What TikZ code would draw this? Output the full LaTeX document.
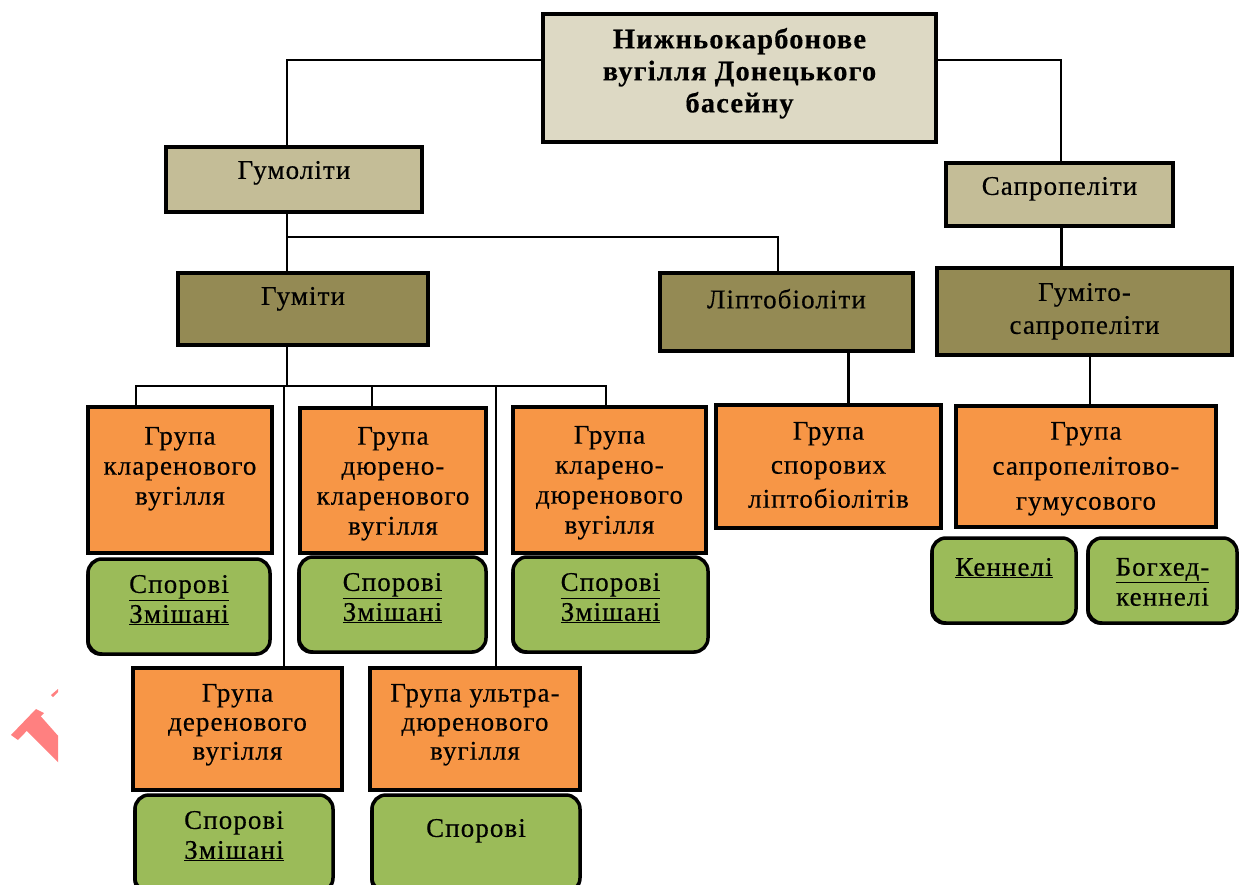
\documentclass[tikz,border=0pt]{standalone}
\usepackage{fontspec}
\setmainfont{Liberation Serif}[LetterSpace=4, FakeBold=0.4]
\usetikzlibrary{shadows}
\definecolor{cTop}{HTML}{DDD9C4}
\definecolor{cTan}{HTML}{C4BD97}
\definecolor{cOlive}{HTML}{948A54}
\definecolor{cOrange}{HTML}{F79646}
\definecolor{cGreen}{HTML}{9BBB59}
\definecolor{cMark}{HTML}{FF8080}
\newcommand\bx[8]{\node[#1,inner sep=0pt] (#2) at ({(#3+#5)/2},{(#4+#6)/2}) {\parbox[c][\dimexpr#6pt-#4pt\relax][t]{\dimexpr#5pt-#3pt\relax}{\centering\vspace*{#7pt}#8\par}};}
\tikzset{
  bbase/.style={draw=black, line width=3.5pt,
    drop shadow={shadow xshift=-1.8pt,shadow yshift=-1.8pt,fill=black,opacity=1},
    font=\fontsize{27}{30}\selectfont},
  topbox/.style={bbase, fill=cTop, font=\fontsize{28.5}{32}\selectfont\bfseries},
  tanbox/.style={bbase, fill=cTan},
  olivebox/.style={bbase, fill=cOlive},
  orangebox/.style={bbase, fill=cOrange},
  greenbox/.style={bbase, fill=cGreen, rounded corners=14pt},
  thin/.style={line width=2pt, draw=black},
  thick/.style={line width=3pt, draw=black},
}
\begin{document}
\begin{tikzpicture}[x=1pt,y=-1pt]
\useasboundingbox[fill=white] (0,0) rectangle (1241,885);
% watermark fragment
\begin{scope}
\clip (0,600) rectangle (58,800);
\fill[cMark] (11,735) -- (36,709) -- (44,713) -- (18,740) -- cycle;
\fill[cMark] (24,728) -- (37,712) -- (60,738) -- (60,764) -- cycle;
\fill[cMark] (51,695) -- (58,689) -- (58,692) -- (53,697) -- cycle;
\end{scope}
% boxes
\bx{topbox}{top}{543}{14}{936}{142}{14}{Нижньокарбонове\\вугілля Донецького\\басейну}
\bx{tanbox}{gumol}{166}{147}{422}{212}{14}{Гумоліти}
\bx{tanbox}{sapro}{946}{163}{1173}{226}{14}{Сапропеліти}
\bx{olivebox}{gumiti}{178}{273}{428}{345}{14}{Гуміти}
\bx{olivebox}{lipto}{660}{273}{913}{351}{16}{Ліптобіоліти}
\bx{olivebox}{gumsap}{937}{268}{1232}{355}{15}{\fontsize{27}{33}\selectfont Гуміто-\\сапропеліти}
\bx{orangebox}{kl}{88}{407}{272}{553}{20}{Група\\кларенового\\вугілля}
\bx{orangebox}{dk}{300}{408}{486}{553}{19}{Група\\дюрено-\\кларенового\\вугілля}
\bx{orangebox}{kd}{513}{407}{706}{553}{19}{Група\\кларено-\\дюренового\\вугілля}
\bx{orangebox}{spor}{716}{405}{941}{528}{17}{\fontsize{27}{34}\selectfont Група\\спорових\\ліптобіолітів}
\bx{orangebox}{sg}{956}{406}{1216}{527}{16}{\fontsize{27}{35}\selectfont Група\\сапропелітово-\\гумусового}
\bx{greenbox}{g1}{88}{559}{270}{654}{16}{\underline{Спорові}\\\underline{Змішані}}
\bx{greenbox}{g2}{299}{557}{486}{652}{16}{\underline{Спорові}\\\underline{Змішані}}
\bx{greenbox}{g3}{513}{557}{708}{652}{16}{\underline{Спорові}\\\underline{Змішані}}
\bx{greenbox}{ken}{932}{538}{1076}{623}{20}{\underline{Кеннелі}}
\bx{greenbox}{bog}{1088}{538}{1237}{623}{20}{\underline{Богхед-}\\кеннелі}
\bx{orangebox}{der}{133}{668}{342}{790}{16}{\fontsize{27}{29}\selectfont Група\\деренового\\вугілля}
\bx{orangebox}{ult}{370}{668}{580}{790}{16}{\fontsize{27}{29}\selectfont Група ультра-\\дюренового\\вугілля}
\bx{greenbox}{g4}{135}{795}{333}{892}{16}{Спорові\\\underline{Змішані}}
\bx{greenbox}{g5}{372}{795}{580}{892}{24}{Спорові}
% connectors
\coordinate (j1) at (287,237);
\coordinate (j2) at (287,386);
\draw[thin] (top.west |- 0,60) -| (287,0 |- gumol.north);
\draw[thin] (top.east |- 0,60) -| (1061,0 |- sapro.north);
\draw[thick] (1061,0 |- sapro.south) -- (1061,0 |- gumsap.north);
\draw[thin] (287,0 |- gumol.south) -- (287,0 |- gumiti.north);
\draw[thin] (j1) -| (778,0 |- lipto.north);
\draw[thin] (287,0 |- gumiti.south) -- (j2);
\draw[thin] (136,0 |- kl.north) |- (j2) -| (606,0 |- kd.north);
\draw[thin] (372,386) -- (372,0 |- dk.north);
\draw[thin] (284,386) -- (284,0 |- der.north);
\draw[thin] (496,386) -- (496,0 |- ult.north);
\draw[thick] (848,0 |- lipto.south) -- (848,0 |- spor.north);
\draw[thin] (1090,0 |- gumsap.south) -- (1090,0 |- sg.north);
\end{tikzpicture}
\end{document}
